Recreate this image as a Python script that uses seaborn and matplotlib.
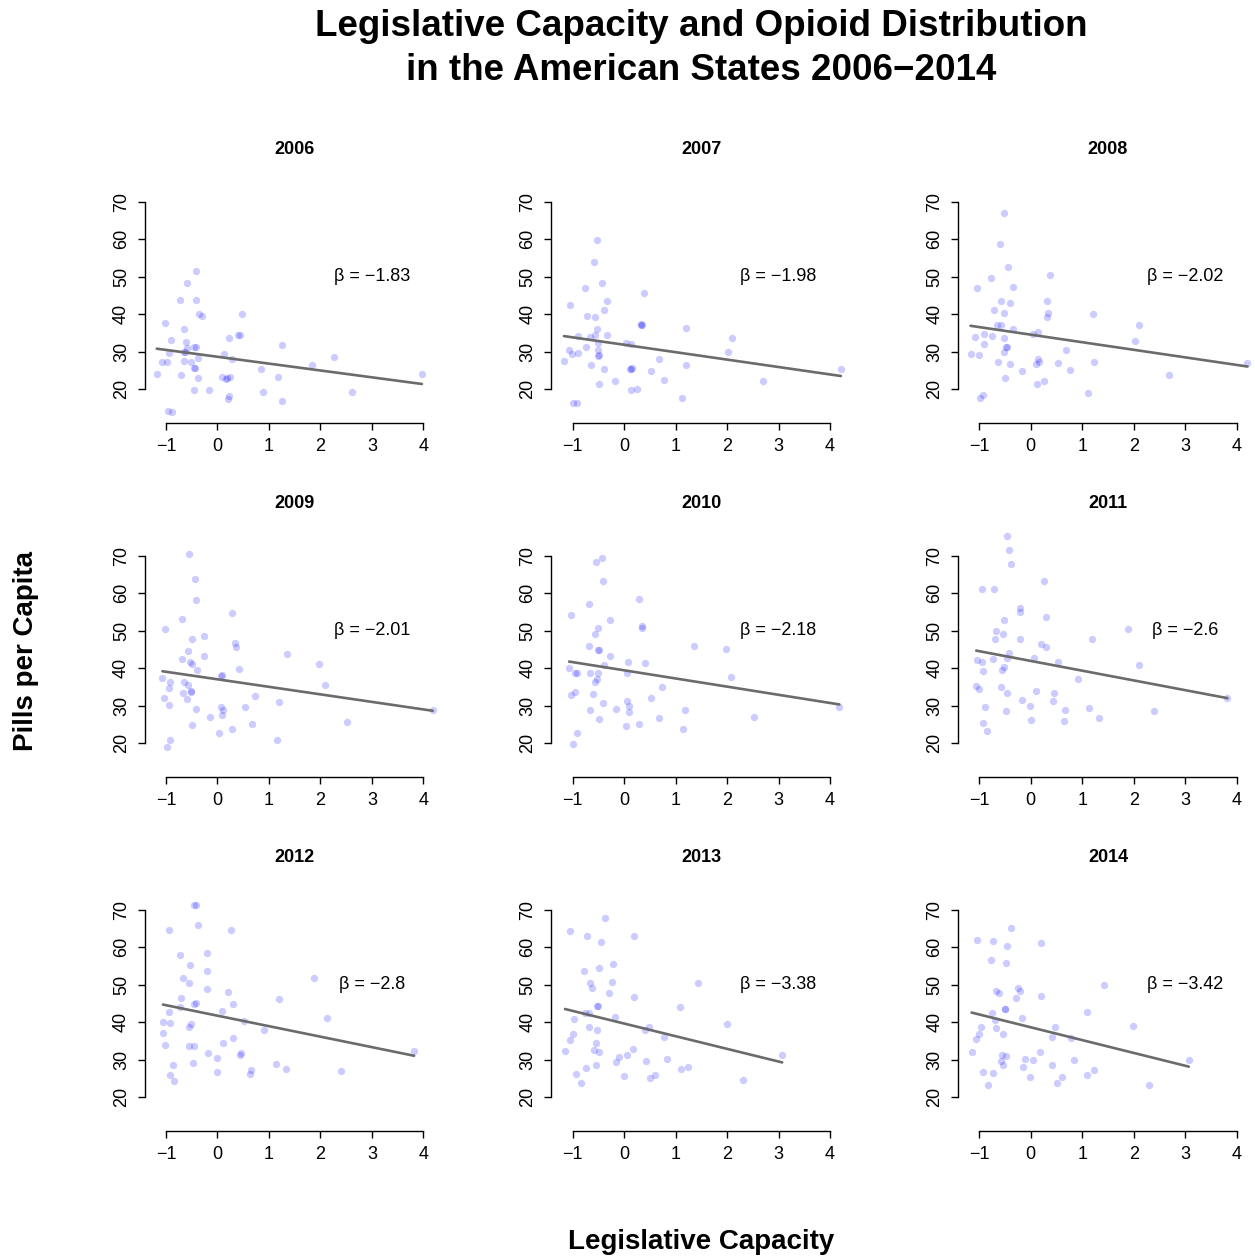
import matplotlib
matplotlib.use("Agg")
import matplotlib.pyplot as plt
import numpy as np
import pandas as pd
import seaborn as sns

sns.set_style("ticks")
plt.rcParams["font.family"] = ["Liberation Sans", "DejaVu Sans"]
plt.rcParams["axes.unicode_minus"] = True
plt.rcParams["text.color"] = "black"
plt.rcParams["xtick.color"] = "black"
plt.rcParams["ytick.color"] = "black"
plt.rcParams["axes.labelcolor"] = "black"

YEARS = [2006, 2007, 2008, 2009, 2010, 2011, 2012, 2013, 2014]
BETAS = [-1.83, -1.98, -2.02, -2.01, -2.18, -2.6, -2.8, -3.38, -3.42]
INTERCEPTS = [28.6, 31.8, 34.5, 37.0, 39.4, 41.9, 41.7, 39.6, 38.6]

X_2006 = [-1.18, -1.07, -0.99, -1.02, -0.91, -0.95, -0.97, -0.89, -0.72, -0.70,
          -0.66, -0.66, -0.66, -0.61, -0.59, -0.60, -0.63, -0.51, -0.46, -0.42,
          -0.41, -0.41, -0.46, -0.43, -0.46, -0.38, -0.38, -0.35, -0.31, -0.16,
          0.08, 0.13, 0.16, 0.19, 0.24, 0.23, 0.23, 0.21, 0.29, 0.39,
          0.44, 0.48, 0.85, 0.89, 1.17, 1.25, 1.25, 1.84, 2.26, 2.62, 3.97]
Y_2006 = [23.9, 27.1, 27.3, 37.7, 33.2, 29.6, 14.2, 13.8, 43.8, 23.6,
          36.1, 30.0, 27.5, 32.6, 48.3, 30.9, 29.8, 27.1, 31.3, 51.6,
          43.8, 31.1, 25.5, 25.7, 19.6, 28.3, 22.8, 40.1, 39.4, 19.7,
          23.3, 29.4, 22.6, 22.8, 23.2, 33.5, 18.2, 17.3, 27.9, 34.5,
          34.5, 39.9, 25.4, 19.1, 23.2, 31.8, 16.7, 26.3, 28.6, 19.3, 23.9]

X_2007 = [-1.17, -1.08, -1.05, -1.01, -0.99, -0.91, -0.90, -0.89, -0.76, -0.75,
          -0.72, -0.66, -0.64, -0.59, -0.57, -0.57, -0.52, -0.53, -0.51, -0.51,
          -0.50, -0.48, -0.49, -0.44, -0.40, -0.40, -0.34, -0.34, -0.18, 0.04,
          0.13, 0.11, 0.15, 0.13, 0.25, 0.33, 0.34, 0.38, 0.53, 0.68,
          0.77, 1.12, 1.21, 1.21, 2.02, 2.10, 2.69, 4.21, 0.14, 0.33]
Y_2007 = [27.5, 30.4, 42.4, 29.3, 16.2, 16.3, 34.2, 29.6, 46.9, 31.3,
          39.4, 33.9, 26.3, 53.8, 39.1, 34.5, 59.9, 35.9, 32.2, 30.5,
          28.7, 29.0, 21.3, 48.4, 41.2, 25.3, 43.4, 34.4, 22.1, 32.4,
          31.9, 25.3, 25.5, 19.6, 20.0, 37.4, 37.0, 45.7, 24.8, 28.0,
          22.3, 17.6, 36.4, 26.3, 29.9, 33.6, 22.0, 25.4, 25.4, 37.2]

X_2008 = [-1.17, -1.08, -1.05, -1.01, -0.99, -0.92, -0.91, -0.90, -0.77, -0.75,
          -0.72, -0.66, -0.64, -0.60, -0.58, -0.58, -0.53, -0.53, -0.52, -0.52,
          -0.49, -0.50, -0.47, -0.44, -0.41, -0.40, -0.34, -0.34, -0.18, 0.04,
          0.14, 0.11, 0.14, 0.16, 0.13, 0.25, 0.32, 0.34, 0.32, 0.37,
          0.53, 0.68, 0.77, 1.12, 1.21, 1.22, 2.02, 2.10, 2.69, 4.21]
Y_2008 = [29.3, 33.8, 47.0, 29.1, 17.7, 18.4, 34.8, 32.1, 49.7, 34.1,
          41.2, 37.2, 27.3, 58.7, 37.2, 43.4, 67.0, 40.4, 33.6, 29.8,
          31.1, 23.0, 31.2, 52.5, 42.9, 26.8, 47.1, 36.1, 24.9, 34.7,
          35.2, 26.6, 27.9, 27.3, 21.3, 22.0, 43.6, 40.4, 39.3, 50.3,
          26.9, 30.4, 25.1, 19.0, 40.0, 27.2, 32.9, 37.2, 23.8, 27.0]

X_2009 = [-1.07, -1.04, -1.02, -0.99, -0.95, -0.94, -0.92, -0.92, -0.68, -0.69,
          -0.67, -0.65, -0.59, -0.57, -0.57, -0.55, -0.53, -0.50, -0.52, -0.51,
          -0.49, -0.49, -0.43, -0.42, -0.41, -0.40, -0.27, -0.27, -0.15, 0.02,
          0.06, 0.07, 0.09, 0.09, 0.10, 0.28, 0.29, 0.34, 0.35, 0.41,
          0.53, 0.68, 0.73, 1.16, 1.20, 1.36, 1.97, 2.08, 2.52, 4.18]
Y_2009 = [37.4, 31.9, 50.3, 18.8, 30.2, 34.6, 36.3, 20.8, 53.0, 42.5,
          33.3, 36.4, 31.7, 44.5, 35.5, 70.4, 41.7, 41.2, 33.8, 33.7,
          47.7, 24.7, 63.7, 29.2, 58.3, 39.4, 48.6, 43.2, 27.0, 22.7,
          29.6, 37.8, 38.2, 27.4, 28.9, 23.6, 54.8, 46.8, 45.5, 39.8,
          29.7, 25.1, 32.5, 20.8, 31.0, 43.8, 41.2, 35.6, 25.5, 28.8]

X_2010 = [-1.07, -1.04, -1.03, -1.00, -0.95, -0.95, -0.92, -0.92, -0.68, -0.69,
          -0.67, -0.66, -0.60, -0.57, -0.57, -0.55, -0.52, -0.51, -0.51, -0.49,
          -0.50, -0.49, -0.43, -0.42, -0.41, -0.40, -0.27, -0.27, -0.15, 0.03,
          0.06, 0.06, 0.08, 0.09, 0.09, 0.28, 0.28, 0.35, 0.35, 0.41,
          0.53, 0.67, 0.73, 1.15, 1.19, 1.36, 1.97, 2.08, 2.52, 4.18]
Y_2010 = [40.1, 32.9, 54.1, 19.6, 33.6, 38.8, 38.6, 22.6, 57.2, 45.8,
          28.9, 38.8, 33.0, 36.3, 49.1, 68.3, 37.1, 38.8, 44.8, 44.8,
          50.6, 26.3, 69.4, 30.7, 63.2, 40.7, 52.9, 43.3, 29.2, 24.5,
          31.3, 38.8, 41.6, 29.8, 28.4, 25.0, 58.4, 51.3, 50.6, 41.3,
          32.1, 26.6, 35.0, 23.8, 28.7, 45.8, 45.2, 37.6, 26.9, 29.7]

X_2011 = [-1.05, -1.06, -1.01, -0.95, -0.94, -0.93, -0.92, -0.88, -0.85, -0.72,
          -0.73, -0.70, -0.67, -0.57, -0.55, -0.54, -0.53, -0.52, -0.48, -0.46,
          -0.47, -0.46, -0.42, -0.42, -0.38, -0.21, -0.21, -0.21, -0.18, -0.01,
          0.00, 0.07, 0.11, 0.20, 0.26, 0.30, 0.30, 0.43, 0.46, 0.52,
          0.64, 0.66, 0.91, 1.13, 1.19, 1.33, 1.88, 2.11, 2.40, 3.82]
Y_2011 = [42.1, 35.3, 34.3, 41.6, 61.1, 39.1, 25.3, 29.5, 23.3, 61.2,
          42.3, 47.8, 49.9, 34.9, 39.4, 49.1, 52.9, 40.3, 28.6, 33.4,
          42.8, 75.3, 44.1, 71.6, 67.9, 56.1, 55.0, 47.7, 31.5, 29.8,
          26.2, 42.8, 33.8, 46.3, 63.3, 45.6, 53.5, 31.3, 33.4, 41.6,
          26.0, 28.8, 37.2, 29.3, 47.7, 26.7, 50.3, 40.8, 28.5, 32.1]

X_2012 = [-1.05, -1.06, -1.01, -0.95, -0.94, -0.92, -0.92, -0.87, -0.84, -0.72,
          -0.73, -0.70, -0.67, -0.56, -0.55, -0.55, -0.53, -0.52, -0.48, -0.46,
          -0.46, -0.45, -0.42, -0.42, -0.38, -0.20, -0.21, -0.21, -0.19, -0.01,
          0.00, 0.08, 0.11, 0.20, 0.26, 0.30, 0.31, 0.43, 0.46, 0.52,
          0.64, 0.66, 0.91, 1.13, 1.19, 1.33, 1.88, 2.12, 2.40, 3.82]
Y_2012 = [40.0, 37.2, 33.9, 42.8, 64.5, 39.8, 25.9, 28.6, 24.4, 57.9,
          43.9, 46.4, 51.8, 33.7, 38.6, 50.5, 55.2, 39.6, 29.2, 33.7,
          44.9, 71.3, 71.3, 45.0, 65.8, 58.4, 53.5, 48.9, 31.8, 30.3,
          26.6, 43.0, 34.5, 48.0, 64.7, 44.8, 35.7, 31.3, 31.7, 40.3,
          26.1, 27.3, 37.8, 28.7, 46.2, 27.5, 51.8, 41.2, 26.9, 32.3]

X_2013 = [-1.15, -1.06, -1.05, -1.00, -0.97, -0.94, -0.84, -0.78, -0.76, -0.75,
          -0.73, -0.69, -0.68, -0.67, -0.62, -0.59, -0.55, -0.53, -0.54, -0.52,
          -0.50, -0.49, -0.49, -0.46, -0.38, -0.29, -0.24, -0.21, -0.18, -0.15,
          -0.10, -0.01, 0.05, 0.18, 0.19, 0.19, 0.41, 0.42, 0.48, 0.50,
          0.60, 0.78, 0.83, 1.09, 1.10, 1.23, 1.43, 1.99, 2.30, 3.07]
Y_2013 = [32.3, 35.3, 64.3, 36.7, 40.9, 26.1, 23.7, 53.6, 42.4, 27.8,
          63.0, 42.4, 38.8, 50.3, 49.1, 32.5, 34.3, 37.8, 28.6, 44.4,
          44.2, 54.4, 32.0, 61.5, 67.9, 47.7, 50.6, 55.6, 41.3, 29.3,
          30.6, 25.5, 31.2, 32.8, 46.8, 63.0, 38.0, 29.5, 38.8, 25.2,
          26.0, 36.0, 30.2, 44.0, 27.4, 27.9, 50.4, 39.6, 24.5, 31.2]

X_2014 = [-1.15, -1.06, -1.05, -1.00, -0.97, -0.93, -0.84, -0.77, -0.76, -0.74,
          -0.73, -0.69, -0.67, -0.67, -0.62, -0.58, -0.55, -0.54, -0.54, -0.51,
          -0.50, -0.49, -0.49, -0.46, -0.38, -0.29, -0.24, -0.21, -0.18, -0.15,
          -0.11, -0.01, 0.05, 0.18, 0.19, 0.19, 0.41, 0.42, 0.48, 0.50,
          0.60, 0.78, 0.83, 1.09, 1.10, 1.23, 1.42, 1.99, 2.30, 3.07]
Y_2014 = [32.0, 35.4, 62.0, 36.9, 38.8, 26.7, 23.2, 56.5, 42.5, 26.3,
          61.7, 40.6, 38.4, 48.2, 47.8, 29.6, 31.1, 36.7, 28.5, 43.6,
          43.6, 55.7, 31.0, 60.2, 65.2, 46.5, 49.1, 48.4, 41.0, 28.1,
          30.2, 25.4, 29.9, 32.1, 47.0, 61.2, 36.0, 28.6, 38.6, 23.7,
          25.3, 35.7, 29.8, 42.8, 25.9, 27.3, 49.9, 38.9, 23.1, 29.9]

X_ALL = [X_2006, X_2007, X_2008, X_2009, X_2010, X_2011, X_2012, X_2013, X_2014]
Y_ALL = [Y_2006, Y_2007, Y_2008, Y_2009, Y_2010, Y_2011, Y_2012, Y_2013, Y_2014]

X_TICKS = [-1, 0, 1, 2, 3, 4]
Y_TICKS = [20, 30, 40, 50, 60, 70]

# layout in pixels (R style panels)
FIG_W, FIG_H = 1255, 1258
COL_LEFT = [144.6, 551.3, 957.9]
ROW_BOTTOM = [422.7, 776.7, 1130.7]
AX_W, AX_H = 300.2, 251.0
XLIM = (-1.416, 4.416)
YLIM = (11.0, 78.0)

POINT_COLOR = (0, 0, 1)
LINE_COLOR = "#6b6b6b"

fig = plt.figure(figsize=(FIG_W / 100, FIG_H / 100), dpi=100)

for i, year in enumerate(YEARS):
    row, col = divmod(i, 3)
    ax = fig.add_axes([COL_LEFT[col] / FIG_W, 1 - ROW_BOTTOM[row] / FIG_H,
                       AX_W / FIG_W, AX_H / FIG_H])
    df = pd.DataFrame({"capacity": X_ALL[i], "pills": Y_ALL[i]})
    sns.scatterplot(data=df, x="capacity", y="pills", ax=ax, color=POINT_COLOR,
                    alpha=0.2, s=28, linewidth=0, zorder=2)

    xs = np.array([df["capacity"].min(), df["capacity"].max()])
    ax.plot(xs, INTERCEPTS[i] + BETAS[i] * xs, color=LINE_COLOR, lw=1.9, zorder=3)

    beta_txt = "\u03b2 = " + str(BETAS[i]).replace("-", "\u2212")
    ax.text(3, 50, beta_txt, ha="center", va="center", fontsize=13)

    ax.set_xlim(*XLIM)
    ax.set_ylim(*YLIM)
    ax.set_xticks(X_TICKS)
    ax.set_yticks(Y_TICKS)
    ax.set_xticklabels([str(t).replace("-", "\u2212") for t in X_TICKS])
    ax.set_yticklabels([str(t) for t in Y_TICKS], rotation=90, va="center")
    ax.set_xlabel("")
    ax.set_ylabel("")
    for side in ["top", "right"]:
        ax.spines[side].set_visible(False)
    ax.spines["bottom"].set_bounds(-1, 4)
    ax.spines["left"].set_bounds(20, 70)
    for side in ["bottom", "left"]:
        ax.spines[side].set_linewidth(1.0)
        ax.spines[side].set_color("black")
    ax.tick_params(axis="x", length=5.2, width=1.0, labelsize=13, pad=6, colors="black")
    ax.tick_params(axis="y", length=5.2, width=1.0, labelsize=13, pad=5.4, colors="black")
    ax.patch.set_alpha(0)

    ax.text(0.5, 1 + 21.7 / AX_H, str(year), transform=ax.transAxes,
            ha="center", va="center", fontsize=13, fontweight="bold")

fig.text(701 / FIG_W, 1 - 26 / FIG_H, "Legislative Capacity and Opioid Distribution",
         ha="center", va="center", fontsize=26.5, fontweight="bold")
fig.text(701 / FIG_W, 1 - 70.5 / FIG_H, "in the American States 2006\u22122014",
         ha="center", va="center", fontsize=26.5, fontweight="bold")
fig.text(701 / FIG_W, 1 - 1242 / FIG_H, "Legislative Capacity",
         ha="center", va="center", fontsize=20, fontweight="bold")
fig.text(26 / FIG_W, 1 - 651 / FIG_H, "Pills per Capita", rotation=90,
         ha="center", va="center", fontsize=20, fontweight="bold")

fig.savefig("out.png", dpi=100)
